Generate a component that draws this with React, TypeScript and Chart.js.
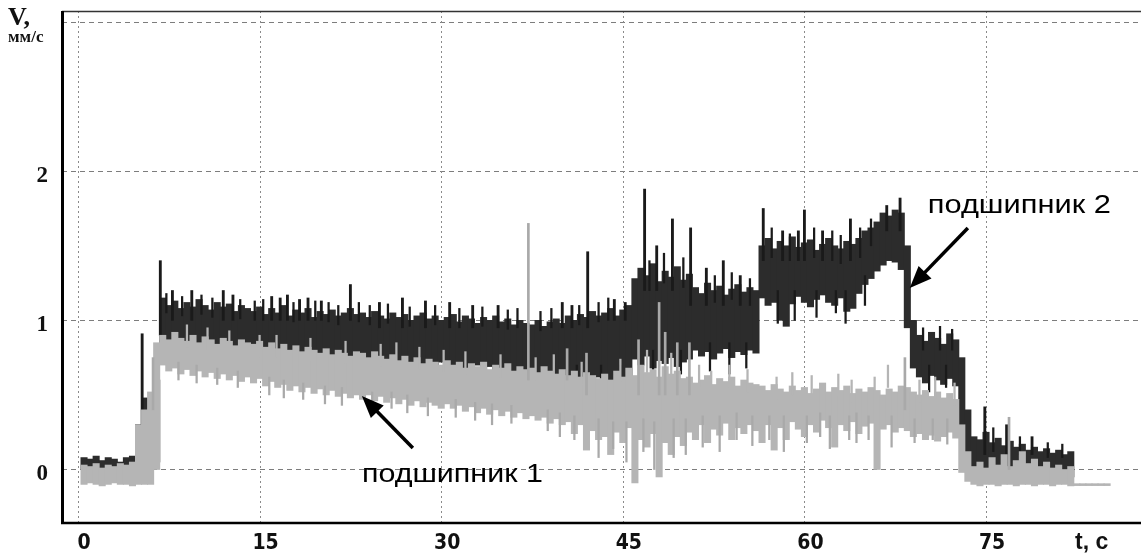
import React, { useEffect, useRef } from 'react';
import { Chart, registerables } from 'chart.js';

Chart.register(...registerables);

// sampling of the band series (seconds)
const SAMPLE_START = 0.5;
const SAMPLE_STEP = 0.5;

// подшипник 2 (dark trace): per-sample envelope, mm/s
const bearing2High = [
  0.08, 0.07, 0.09, 0.06, 0.08, 0.07, 0.05, 0.08, 0.09,
  0.3, 0.48, 0.3, 0.6,
  1.15, 1.1, 1.13, 1.08, 1.12, 1.09, 1.14, 1.1, 1.07, 1.12, 1.09, 1.11, 1.06, 1.1, 1.08,
  1.06, 1.09, 1.04, 1.08, 1.05, 1.1, 1.03, 1.07, 1.05, 1.08, 1.02, 1.06, 1.04, 1.07, 1.03, 1.05, 1.08, 1.04,
  1.05, 1.02, 1.06, 1.03, 1.01, 1.05, 1.02, 1.04, 1.0, 1.03, 1.05, 1.01, 1.03, 1.0,
  1.02, 1.04, 0.99, 1.03, 1.01, 0.98, 1.02, 1.0, 1.03, 0.99, 1.01, 0.97, 1.0, 0.98,
  0.97, 1.0, 0.96, 0.99, 1.01, 0.98, 1.03, 1.0, 1.04, 1.02, 1.06, 1.03,
  1.05, 1.08, 1.03, 1.07, 1.1,
  1.28, 1.35, 1.3, 1.38, 1.26, 1.33, 1.29, 1.36, 1.27, 1.31,
  1.22, 1.18, 1.25, 1.2, 1.23, 1.17, 1.21, 1.24, 1.19, 1.22, 1.2,
  1.5, 1.55, 1.48, 1.53, 1.5, 1.56, 1.49, 1.52, 1.54, 1.47, 1.51, 1.55, 1.5, 1.48, 1.53, 1.51,
  1.55, 1.6, 1.62, 1.66, 1.72, 1.7, 1.74, 1.72,
  1.5, 1.0,
  0.9, 0.86, 0.92, 0.88, 0.84, 0.91, 0.87,
  0.75, 0.4,
  0.22, 0.2, 0.25, 0.18, 0.21, 0.16, 0.19, 0.15, 0.17, 0.13, 0.15, 0.12, 0.14, 0.11, 0.13, 0.1, 0.12,
];
const bearing2Low = [
  0.0, -0.02, 0.01, -0.01, 0.0, 0.01, -0.02, 0.0, -0.01,
  0.05, 0.1, 0.05, 0.05,
  0.84, 0.8, 0.86, 0.82, 0.79, 0.83, 0.81, 0.85, 0.8, 0.78, 0.82, 0.8, 0.77, 0.81, 0.79,
  0.78, 0.74, 0.79, 0.75, 0.72, 0.77, 0.74, 0.7, 0.76, 0.73, 0.75, 0.71, 0.74, 0.72, 0.76, 0.7, 0.73, 0.71,
  0.72, 0.69, 0.74, 0.7, 0.72, 0.68, 0.71, 0.73, 0.69, 0.7, 0.67, 0.71, 0.69, 0.72,
  0.7, 0.67, 0.71, 0.68, 0.66, 0.7, 0.67, 0.69, 0.65, 0.68, 0.7, 0.66, 0.68, 0.64,
  0.66, 0.63, 0.67, 0.64, 0.62, 0.65, 0.61, 0.64, 0.6, 0.63, 0.59, 0.62,
  0.63, 0.6, 0.64, 0.58, 0.56,
  0.74, 0.7, 0.76, 0.68, 0.73, 0.71, 0.75, 0.69, 0.72, 0.74,
  0.8, 0.76, 0.79, 0.74, 0.78, 0.81, 0.75, 0.79, 0.77, 0.8, 0.78,
  1.15, 1.1, 1.12, 1.0, 0.96, 1.11, 1.16, 1.12, 1.09, 1.14, 1.17, 1.12, 1.1, 1.15, 1.06, 1.08,
  1.18, 1.24, 1.28, 1.33, 1.37, 1.4, 1.39, 1.34,
  0.95, 0.68,
  0.62, 0.58, 0.63, 0.6, 0.57, 0.61, 0.56,
  0.3, 0.08,
  0.0, 0.02, -0.01, 0.01, 0.0, 0.02, -0.01, 0.01, 0.0, 0.02, 0.0, 0.01, -0.01, 0.0, 0.01, -0.02, -0.05,
];

// подшипник 1 (light trace): per-sample envelope, mm/s
const bearing1High = [
  0.03, 0.02, 0.04, 0.01, 0.03, 0.02, 0.04, 0.03, 0.05,
  0.3, 0.4, 0.52, 0.85,
  0.9, 0.87, 0.92, 0.88, 0.86, 0.9, 0.85, 0.89, 0.87, 0.84, 0.88, 0.86, 0.83, 0.87, 0.85,
  0.84, 0.86, 0.82, 0.85, 0.81, 0.84, 0.8, 0.83, 0.79, 0.82, 0.8, 0.78, 0.81, 0.77, 0.8, 0.78, 0.76, 0.79,
  0.78, 0.75, 0.79, 0.76, 0.74, 0.77, 0.73, 0.76, 0.72, 0.75, 0.71, 0.74, 0.72, 0.7,
  0.73, 0.7, 0.72, 0.68, 0.71, 0.69, 0.72, 0.67, 0.7, 0.68, 0.71, 0.66, 0.69, 0.67,
  0.68, 0.65, 0.69, 0.66, 0.64, 0.67, 0.63, 0.66, 0.62, 0.65, 0.63, 0.61,
  0.64, 0.6, 0.66, 0.62, 0.68, 0.63, 0.7, 0.65, 0.67, 0.62, 0.69, 0.64, 0.66, 0.61,
  0.62, 0.58, 0.6, 0.63, 0.57, 0.61, 0.59, 0.62, 0.56, 0.6, 0.58, 0.57,
  0.56, 0.53, 0.57, 0.54, 0.52, 0.56, 0.53, 0.55, 0.51, 0.54, 0.58, 0.52, 0.55, 0.53, 0.56, 0.51, 0.54, 0.52, 0.55, 0.53, 0.5, 0.54, 0.52, 0.56,
  0.55, 0.52, 0.5, 0.53, 0.49, 0.52, 0.48, 0.51, 0.47,
  0.3, 0.12,
  0.02, 0.05, 0.01, 0.08, 0.03, 0.1, 0.02, 0.06, 0.12, 0.04, 0.07, 0.02, 0.05, 0.01, 0.03, 0.0, 0.02,
  -0.095, -0.095, -0.095, -0.095, -0.095, -0.095,
];
const bearing1Low = [
  -0.1, -0.09, -0.1, -0.11, -0.1, -0.09, -0.1, -0.1, -0.11,
  -0.1, -0.1, -0.1, 0.0,
  0.7, 0.66, 0.68, 0.64, 0.67, 0.63, 0.66, 0.62, 0.65, 0.61, 0.64, 0.6, 0.63, 0.59, 0.62,
  0.58, 0.61, 0.56, 0.59, 0.55, 0.57, 0.53, 0.56, 0.52, 0.55, 0.51, 0.54, 0.5, 0.53, 0.49, 0.51, 0.48, 0.5,
  0.47, 0.5, 0.46, 0.49, 0.45, 0.48, 0.44, 0.47, 0.43, 0.46, 0.42, 0.45, 0.43, 0.41,
  0.44, 0.41, 0.43, 0.39, 0.42, 0.38, 0.41, 0.37, 0.4, 0.36, 0.39, 0.35, 0.38, 0.34,
  0.36, 0.33, 0.35, 0.31, 0.34, 0.3, 0.32, 0.24, 0.3, 0.13, 0.26, 0.2,
  0.22, 0.1, 0.25, 0.18, 0.28, -0.09, 0.2, 0.15, 0.24, -0.05, 0.18, 0.1, 0.22, 0.16,
  0.25, 0.2, 0.3, 0.18, 0.27, 0.23, 0.31, 0.2, 0.28, 0.24, 0.3, 0.26,
  0.18, 0.3, 0.13, 0.28, 0.2, 0.32, 0.27, 0.22, 0.3, 0.25, 0.33, 0.28, 0.15, 0.3, 0.26, 0.32, 0.24, 0.29, 0.31, 0.0, 0.27, 0.3, 0.25, 0.28,
  0.26, 0.22, 0.24, 0.2, 0.23, 0.19, 0.22, 0.25, 0.21,
  -0.02, -0.08,
  -0.1, -0.11, -0.1, -0.1, -0.11, -0.1, -0.1, -0.11, -0.1, -0.1, -0.11, -0.1, -0.1, -0.11, -0.1, -0.1, -0.11,
  -0.108, -0.108, -0.108, -0.108, -0.108, -0.108,
];

// isolated tall peaks of подшипник 2: time (s), foot, peak (mm/s)
const bearing2PeakT = [5.3, 6.8, 7.8, 9.4, 12.0, 12.8, 16.0, 16.7, 17.3, 18.3, 19.0, 20.1, 22.5, 24.9, 26.8, 28.7, 30.7, 32.6, 34.7, 40.0, 40.8, 42.1, 44.3, 45.2, 46.8, 47.8, 49.1, 50.6, 51.9, 53.3, 54.7, 56.6, 58.2, 59.5, 60.0, 61.5, 63.8, 66.8, 67.9, 74.9, 76.7, 78.8];
const bearing2PeakLow = [0.3, 0.9, 1.0, 1.0, 1.0, 1.0, 1.0, 1.0, 1.0, 1.0, 1.0, 1.0, 1.0, 0.95, 0.95, 0.95, 0.95, 0.95, 0.95, 0.95, 0.95, 0.95, 1.0, 1.0, 1.2, 1.2, 1.2, 1.1, 1.1, 1.1, 1.1, 1.4, 1.4, 1.4, 1.4, 1.4, 1.4, 1.6, 1.6, 0.1, 0.1, 0.1];
const bearing2PeakHigh = [0.91, 1.4, 1.2, 1.2, 1.2, 1.17, 1.16, 1.15, 1.17, 1.14, 1.15, 1.13, 1.24, 1.12, 1.15, 1.13, 1.12, 1.1, 1.1, 1.12, 1.1, 1.46, 1.14, 1.12, 1.88, 1.5, 1.68, 1.62, 1.35, 1.4, 1.3, 1.75, 1.6, 1.6, 1.74, 1.6, 1.68, 1.77, 1.82, 0.42, 0.3, 0.22];

// short noise spikes of подшипник 2 (upwards)
const bearing2SpikeT = [7.3, 8.6, 10.2, 11.1, 13.4, 14.6, 15.3, 17.8, 19.6, 20.7, 21.5, 23.2, 24.1, 25.6, 27.4, 29.5, 31.5, 33.4, 35.5, 36.3, 38.2, 39.1, 41.4, 43.0, 43.8, 47.2, 48.4, 50.0, 52.6, 54.0, 55.5, 57.3, 58.8, 60.8, 62.3, 63.0, 64.6, 65.5, 69.8, 71.2, 72.2, 75.6, 77.8, 80.1, 81.3];
const bearing2SpikeLow = [1.05, 1.03, 1.04, 1.02, 1.01, 1.0, 1.0, 0.99, 1.0, 0.99, 0.97, 0.99, 0.97, 0.98, 0.96, 0.97, 0.95, 0.96, 0.94, 0.95, 0.93, 0.95, 0.97, 0.99, 1.0, 1.2, 1.25, 1.22, 1.12, 1.14, 1.1, 1.42, 1.4, 1.42, 1.4, 1.38, 1.42, 1.5, 0.8, 0.8, 0.8, 0.12, 0.1, 0.08, 0.08];
const bearing2SpikeHigh = [1.18, 1.16, 1.17, 1.15, 1.14, 1.13, 1.14, 1.12, 1.13, 1.12, 1.1, 1.12, 1.1, 1.11, 1.09, 1.1, 1.08, 1.09, 1.07, 1.08, 1.06, 1.08, 1.1, 1.12, 1.15, 1.4, 1.45, 1.42, 1.3, 1.32, 1.28, 1.62, 1.58, 1.62, 1.6, 1.57, 1.62, 1.68, 0.95, 0.96, 0.94, 0.28, 0.22, 0.18, 0.17];

// short noise dips of подшипник 2 (downwards)
const bearing2DipT = [41.2, 43.2, 44.8, 47.5, 49.8, 52.2, 53.8, 55.2, 57.8, 59.2, 61.0, 62.6, 63.4, 65.0, 70.3, 71.7];
const bearing2DipLow = [0.56, 0.55, 0.52, 0.62, 0.64, 0.66, 0.64, 0.68, 0.98, 1.0, 1.02, 1.05, 0.98, 1.1, 0.52, 0.55];
const bearing2DipHigh = [0.7, 0.7, 0.7, 0.8, 0.8, 0.85, 0.85, 0.85, 1.2, 1.2, 1.2, 1.2, 1.2, 1.3, 0.7, 0.7];

// isolated tall peaks of подшипник 1
const bearing1PeakT = [6.2, 37.2, 40.4, 42.0, 46.3, 48.0, 48.5, 49.5, 50.5, 68.3, 76.9];
const bearing1PeakLow = [0.4, 0.6, 0.6, 0.5, 0.5, 0.5, 0.5, 0.5, 0.5, 0.4, 0.0];
const bearing1PeakHigh = [0.75, 1.65, 0.81, 0.78, 0.87, 1.12, 0.92, 0.85, 0.85, 0.75, 0.35];

// short noise spikes of подшипник 1 (upwards)
const bearing1SpikeT = [9.0, 10.7, 12.5, 15.0, 16.4, 19.2, 22.1, 25.0, 26.3, 28.2, 30.2, 32.0, 34.9, 37.8, 39.3, 41.6, 44.8, 47.0, 49.0, 51.3, 52.3, 53.8, 55.3, 57.7, 59.0, 60.6, 62.8, 63.9, 65.8, 66.9, 69.5, 70.8, 72.4];
const bearing1SpikeLow = [0.82, 0.8, 0.78, 0.75, 0.75, 0.73, 0.71, 0.69, 0.7, 0.67, 0.65, 0.64, 0.62, 0.6, 0.62, 0.57, 0.59, 0.65, 0.63, 0.55, 0.51, 0.55, 0.52, 0.47, 0.5, 0.48, 0.49, 0.45, 0.47, 0.55, 0.45, 0.47, 0.43];
const bearing1SpikeHigh = [0.97, 0.95, 0.93, 0.9, 0.9, 0.88, 0.86, 0.84, 0.85, 0.82, 0.8, 0.79, 0.77, 0.75, 0.77, 0.72, 0.74, 0.8, 0.78, 0.7, 0.66, 0.7, 0.67, 0.62, 0.65, 0.63, 0.64, 0.6, 0.62, 0.7, 0.6, 0.62, 0.58];

// short noise dips of подшипник 1 (downwards)
const bearing1DipT = [8.3, 9.8, 11.5, 13.2, 15.8, 17.0, 18.6, 20.4, 21.8, 24.3, 25.9, 27.2, 28.9, 31.2, 32.8, 34.2, 35.8, 38.8, 39.8, 41.0, 43.0, 44.2, 45.3, 46.7, 47.6, 49.2, 50.2, 51.6, 53.0, 54.4, 55.7, 57.1, 58.3, 60.2, 61.3, 62.1, 63.7, 64.3, 65.3, 67.2, 69.1, 70.6, 71.8];
const bearing1DipLow = [0.6, 0.58, 0.57, 0.55, 0.5, 0.48, 0.47, 0.44, 0.43, 0.4, 0.41, 0.38, 0.36, 0.35, 0.33, 0.3, 0.31, 0.26, 0.22, 0.2, 0.08, 0.14, 0.05, 0.12, 0.0, 0.08, 0.1, 0.15, 0.12, 0.2, 0.16, 0.2, 0.12, 0.18, 0.22, 0.14, 0.2, 0.18, 0.2, 0.15, 0.18, 0.2, 0.17];
const bearing1DipHigh = [0.72, 0.7, 0.68, 0.66, 0.62, 0.6, 0.58, 0.56, 0.55, 0.52, 0.52, 0.5, 0.48, 0.47, 0.45, 0.44, 0.43, 0.4, 0.38, 0.36, 0.34, 0.32, 0.32, 0.34, 0.32, 0.34, 0.34, 0.36, 0.36, 0.38, 0.36, 0.36, 0.36, 0.36, 0.38, 0.36, 0.36, 0.38, 0.36, 0.36, 0.34, 0.34, 0.34];

const X_TICKS = [0, 15, 30, 45, 60, 75];
const Y_TICKS = [0, 1, 2, 3];
const Y_LABELS = ['0', '1', '2', ''];

const X_MIN = -1.32;
const X_MAX = 87.8;
const Y_MIN = -0.352;
const Y_MAX = 3.074;

const DARK = '#2c2c2c';
const DARK_SPIKE = '#1a1a1a';
const LIGHT = '#b5b5b5';
const LIGHT_SPIKE = '#a9a9a9';

const toBand = (hi: number[], lo: number[]) =>
  hi.map((h, i) => ({ x: SAMPLE_START + i * SAMPLE_STEP, y: [lo[i], h] }));
const toPeaks = (t: number[], lo: number[], hi: number[]) =>
  t.map((tt, i) => ({ x: tt, y: [lo[i], hi[i]] }));

function drawArrow(ctx: CanvasRenderingContext2D, x1: number, y1: number, x2: number, y2: number) {
  const ang = Math.atan2(y2 - y1, x2 - x1);
  const head = 22;
  const hw = 9;
  const bx = x2 - head * Math.cos(ang);
  const by = y2 - head * Math.sin(ang);
  ctx.strokeStyle = '#000';
  ctx.fillStyle = '#000';
  ctx.lineWidth = 3.5;
  ctx.beginPath();
  ctx.moveTo(x1, y1);
  ctx.lineTo(bx + 2 * Math.cos(ang), by + 2 * Math.sin(ang));
  ctx.stroke();
  ctx.beginPath();
  ctx.moveTo(x2, y2);
  ctx.lineTo(bx - hw * Math.sin(ang), by + hw * Math.cos(ang));
  ctx.lineTo(bx + hw * Math.sin(ang), by - hw * Math.cos(ang));
  ctx.closePath();
  ctx.fill();
}

function drawStretchedText(ctx: CanvasRenderingContext2D, text: string, x: number, y: number, width: number) {
  const w = ctx.measureText(text).width;
  ctx.save();
  ctx.translate(x, y);
  ctx.scale(width / w, 1);
  ctx.fillText(text, 0, 0);
  ctx.restore();
}

const decorPlugin = {
  id: 'decor',
  beforeDatasetsDraw(chart: any) {
    const { ctx, chartArea: a, scales } = chart;
    const x = scales.x;
    const y = scales.y;
    ctx.save();
    ctx.lineWidth = 1;
    ctx.strokeStyle = '#7d7d7d';
    ctx.setLineDash([5, 4]);
    for (const v of Y_TICKS) {
      const py = Math.round(y.getPixelForValue(v)) + 0.5;
      ctx.beginPath();
      ctx.moveTo(a.left, py);
      ctx.lineTo(a.right, py);
      ctx.stroke();
    }
    ctx.strokeStyle = '#8a8a8a';
    ctx.setLineDash([2, 3]);
    for (const v of X_TICKS) {
      const px = Math.round(x.getPixelForValue(v)) + 0.5;
      ctx.beginPath();
      ctx.moveTo(px, a.top);
      ctx.lineTo(px, a.bottom);
      ctx.stroke();
    }
    ctx.restore();
  },
  afterDraw(chart: any) {
    const { ctx, chartArea: a, scales } = chart;
    const x = scales.x;
    const y = scales.y;
    ctx.save();
    ctx.setLineDash([]);
    ctx.strokeStyle = '#333';
    ctx.lineWidth = 1.5;
    ctx.beginPath();
    ctx.moveTo(a.left, a.top + 0.5);
    ctx.lineTo(a.right, a.top + 0.5);
    ctx.stroke();
    ctx.strokeStyle = '#000';
    ctx.lineWidth = 3;
    ctx.beginPath();
    ctx.moveTo(a.left + 0.5, a.top);
    ctx.lineTo(a.left + 0.5, a.bottom + 2);
    ctx.stroke();
    ctx.lineWidth = 2.5;
    ctx.beginPath();
    ctx.moveTo(a.left - 1, a.bottom + 1);
    ctx.lineTo(a.right, a.bottom + 1);
    ctx.stroke();

    ctx.fillStyle = '#111';
    ctx.textAlign = 'left';
    ctx.textBaseline = 'alphabetic';
    ctx.font = 'bold 26px "Liberation Serif", serif';
    ctx.fillText('V,', 8, 25);
    ctx.font = 'bold 17px "Liberation Serif", serif';
    ctx.fillText('мм/с', 8, 42);
    ctx.font = 'bold 23px "Liberation Sans", Arial, sans-serif';
    ctx.fillText('t, c', 1075, 549);

    ctx.fillStyle = '#000';
    ctx.font = '26px "Liberation Sans", Arial, sans-serif';
    drawStretchedText(ctx, 'подшипник 1', x.getPixelForValue(23.45), y.getPixelForValue(-0.084), 181);
    drawStretchedText(ctx, 'подшипник 2', x.getPixelForValue(70.19), y.getPixelForValue(1.719), 183);
    drawArrow(ctx, x.getPixelForValue(27.66), y.getPixelForValue(0.144), x.getPixelForValue(23.45), y.getPixelForValue(0.493));
    drawArrow(ctx, x.getPixelForValue(73.5), y.getPixelForValue(1.619), x.getPixelForValue(68.7), y.getPixelForValue(1.217));
    ctx.restore();
  },
};

export default function App() {
  const canvasRef = useRef<HTMLCanvasElement | null>(null);

  useEffect(() => {
    document.body.style.margin = '0';
    document.body.style.background = '#fff';
    const canvas = canvasRef.current;
    if (!canvas) return;
    const thin = (label: string, data: any[], color: string, order: number, w: number) => ({
      label, data, backgroundColor: color, barThickness: w, grouped: false, order,
    });
    const chart = new Chart(canvas, {
      type: 'bar',
      data: {
        datasets: [
          thin('подшипник 1 пики', toPeaks(bearing1PeakT, bearing1PeakLow, bearing1PeakHigh), LIGHT_SPIKE, 0, 2),
          thin('подшипник 1 шум+', toPeaks(bearing1SpikeT, bearing1SpikeLow, bearing1SpikeHigh), LIGHT, 0, 1.6),
          thin('подшипник 1 шум-', toPeaks(bearing1DipT, bearing1DipLow, bearing1DipHigh), LIGHT_SPIKE, 0, 1.6),
          thin('подшипник 1', toBand(bearing1High, bearing1Low), LIGHT, 1, 6.4),
          thin('подшипник 2 пики', toPeaks(bearing2PeakT, bearing2PeakLow, bearing2PeakHigh), DARK_SPIKE, 2, 2.2),
          thin('подшипник 2 шум+', toPeaks(bearing2SpikeT, bearing2SpikeLow, bearing2SpikeHigh), DARK_SPIKE, 2, 1.6),
          thin('подшипник 2 шум-', toPeaks(bearing2DipT, bearing2DipLow, bearing2DipHigh), DARK_SPIKE, 2, 1.6),
          thin('подшипник 2', toBand(bearing2High, bearing2Low), DARK, 3, 6.4),
        ] as any,
      },
      options: {
        animation: false,
        responsive: false,
        devicePixelRatio: 1,
        layout: { padding: { top: 11, right: 0, left: 0, bottom: 0 } },
        plugins: { legend: { display: false }, tooltip: { enabled: false } },
        scales: {
          x: {
            type: 'linear',
            min: X_MIN,
            max: X_MAX,
            offset: false,
            grid: { display: false, drawTicks: false },
            border: { display: false },
            afterBuildTicks: (s: any) => {
              s.ticks = X_TICKS.map((v) => ({ value: v }));
            },
            afterFit: (s: any) => {
              s.height = 34;
              s.paddingLeft = 0;
              s.paddingRight = 0;
            },
            ticks: {
              autoSkip: false,
              maxRotation: 0,
              padding: 9,
              labelOffset: 6,
              color: '#111',
              font: { family: '"Liberation Sans Narrow", "DejaVu Sans Condensed", "Liberation Sans", sans-serif', weight: 'bold', size: 21 },
              callback: (v: any) => String(v),
            },
          },
          y: {
            type: 'linear',
            min: Y_MIN,
            max: Y_MAX,
            grid: { display: false, drawTicks: false },
            border: { display: false },
            afterBuildTicks: (s: any) => {
              s.ticks = Y_TICKS.map((v) => ({ value: v }));
            },
            afterFit: (s: any) => {
              s.width = 62;
              s.paddingTop = 0;
              s.paddingBottom = 0;
            },
            ticks: {
              padding: 14,
              labelOffset: 5,
              color: '#111',
              font: { family: '"Liberation Serif", serif', weight: 'bold', size: 23 },
              callback: (_v: any, i: number) => Y_LABELS[i],
            },
          },
        },
      } as any,
      plugins: [decorPlugin],
    });
    return () => chart.destroy();
  }, []);

  return (
    <div style={{ width: 1141, height: 556 }}>
      <canvas ref={canvasRef} width={1141} height={556} style={{ display: 'block' }} />
    </div>
  );
}
